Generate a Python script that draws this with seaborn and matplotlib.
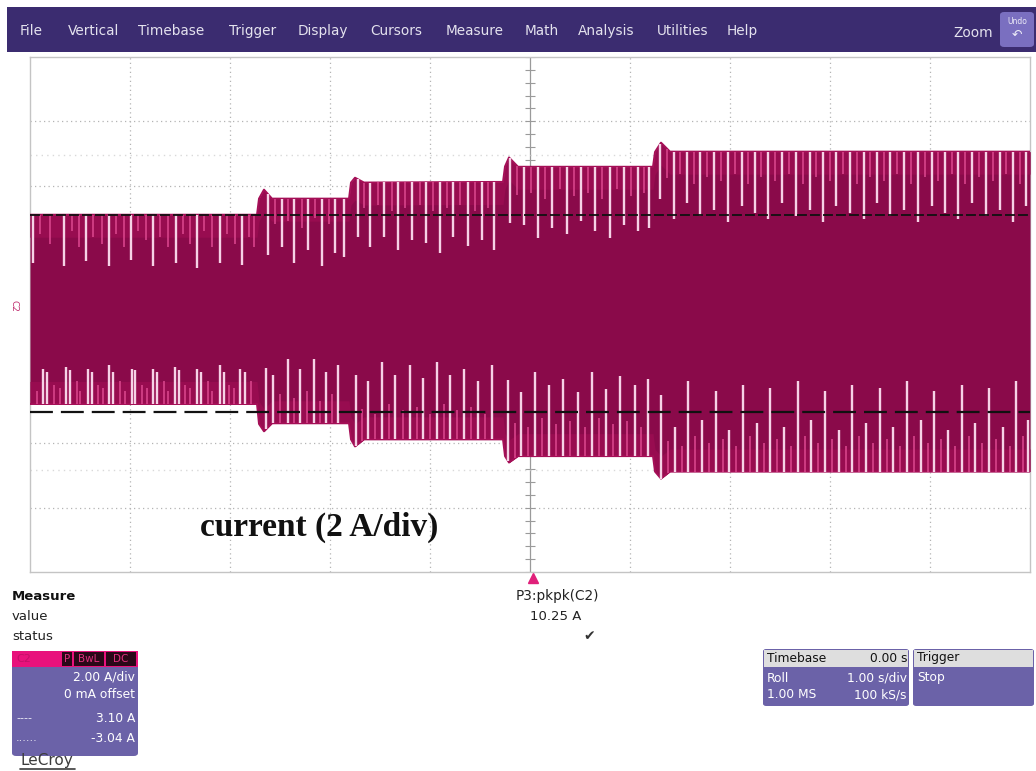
import numpy as np
import matplotlib
matplotlib.use("Agg")
import matplotlib.pyplot as plt
import seaborn as sns
from matplotlib.patches import FancyBboxPatch, Rectangle
from matplotlib.lines import Line2D

# ---------------- data ----------------
menu_items = ["File", "Vertical", "Timebase", "Trigger", "Display", "Cursors",
              "Measure", "Math", "Analysis", "Utilities", "Help"]

# envelope of the current trace (time in s, current in A)
env_t = [-5.00, -2.73, -2.71, -2.66, -2.58, -1.81, -1.79, -1.75, -1.66,
         -0.27, -0.25, -0.21, -0.12, 1.23, 1.25, 1.31, 1.40, 5.00]
env_upper = [3.10, 3.10, 3.60, 3.88, 3.60, 3.60, 4.10, 4.25, 4.10,
             4.12, 4.60, 4.88, 4.59, 4.59, 5.05, 5.34, 5.06, 5.06]
env_lower = [-2.78, -2.78, -3.40, -3.63, -3.38, -3.38, -3.88, -4.10, -3.88,
             -3.88, -4.40, -4.60, -4.40, -4.40, -4.88, -5.10, -4.88, -4.88]

# light streaks hanging from the upper envelope (time, length in A)
top_white_t = [-4.97, -4.66, -4.44, -4.21, -3.99, -3.77, -3.54, -3.33, -3.10, -2.88,
               -2.62, -2.48, -2.36, -2.22, -2.08, -1.95, -1.86,
               -1.72, -1.60, -1.46, -1.32, -1.18, -1.04, -0.90, -0.77, -0.62, -0.48, -0.36,
               -0.20, -0.06, 0.08, 0.22, 0.37, 0.51, 0.65, 0.80, 0.94, 1.08, 1.19,
               1.30, 1.44, 1.57, 1.70, 1.84, 1.98, 2.12, 2.25, 2.38, 2.52, 2.66, 2.80,
               2.93, 3.06, 3.20, 3.34, 3.47, 3.60, 3.74, 3.88, 4.02, 4.15, 4.28, 4.42,
               4.56, 4.70, 4.83, 4.96]
top_white_len = [1.50, 1.60, 1.45, 1.60, 1.40, 1.60, 1.50, 1.65, 1.50, 1.55,
                 1.90, 1.50, 2.00, 1.60, 2.10, 1.70, 1.80,
                 1.80, 2.00, 1.70, 2.10, 1.80, 1.90, 2.20, 1.70, 2.00, 1.80, 2.10,
                 2.00, 1.80, 2.20, 1.90, 2.10, 1.70, 2.00, 2.20, 1.80, 2.00, 1.90,
                 1.70, 2.10, 1.60, 2.00, 1.80, 2.20, 1.70, 1.90, 2.10, 1.60, 2.00, 1.80,
                 2.20, 1.70, 1.90, 2.10, 1.60, 2.00, 1.80, 2.20, 1.70, 1.90, 2.10, 1.60,
                 2.00, 1.80, 2.20, 1.70]
top_pink_t = [-4.90, -4.80, -4.58, -4.51, -4.37, -4.28, -4.14, -4.06, -3.92, -3.84,
              -3.70, -3.62, -3.47, -3.40, -3.26, -3.18, -3.03, -2.95, -2.81, -2.76,
              -2.55, -2.42, -2.28, -2.15, -2.01,
              -1.66, -1.52, -1.38, -1.25, -1.10, -0.97, -0.83, -0.70, -0.55, -0.42,
              -0.13, 0.01, 0.15, 0.30, 0.44, 0.58, 0.72, 0.87, 1.01, 1.14,
              1.37, 1.50, 1.64, 1.77, 1.91, 2.05, 2.18, 2.31, 2.45, 2.59, 2.73,
              2.86, 3.00, 3.13, 3.27, 3.40, 3.54, 3.67, 3.81, 3.95, 4.08, 4.22,
              4.35, 4.49, 4.63, 4.76, 4.90]
top_pink_len = [0.6, 0.9, 0.5, 1.0, 0.7, 0.9, 0.6, 1.0, 0.5, 0.8,
                0.7, 1.0, 0.6, 0.9, 0.5, 1.0, 0.6, 0.9, 0.7, 1.0,
                0.8, 0.7, 0.9, 0.6, 0.8,
                0.8, 0.7, 0.9, 0.8, 0.7, 0.9, 0.8, 0.7, 0.9, 0.8,
                0.9, 0.8, 1.0, 0.7, 0.9, 0.8, 1.0, 0.7, 0.9, 0.8,
                0.9, 0.7, 1.0, 0.8, 0.9, 0.7, 1.0, 0.8, 0.9, 0.7, 1.0,
                0.8, 0.9, 0.7, 1.0, 0.8, 0.9, 0.7, 1.0, 0.8, 0.9, 0.7,
                1.0, 0.8, 0.9, 0.7, 1.0]

# light streaks rising from the lower envelope (time, length in A)
bot_white_t = [-4.87, -4.83, -4.64, -4.60, -4.42, -4.38, -4.21, -4.17, -3.98, -3.95,
               -3.77, -3.73, -3.55, -3.51, -3.33, -3.29, -3.10, -3.06, -2.90, -2.85,
               -2.64, -2.57, -2.42, -2.30, -2.16, -2.04, -1.92,
               -1.74, -1.62, -1.48, -1.35, -1.20, -1.07, -0.93, -0.80, -0.66, -0.52, -0.38,
               -0.22, -0.09, 0.05, 0.19, 0.33, 0.48, 0.62, 0.76, 0.90, 1.05, 1.18,
               1.31, 1.45, 1.58, 1.72, 1.86, 1.99, 2.13, 2.27, 2.40, 2.54, 2.68, 2.81,
               2.95, 3.09, 3.22, 3.36, 3.50, 3.63, 3.77, 3.91, 4.04, 4.18, 4.32, 4.45,
               4.59, 4.73, 4.86, 4.98]
bot_white_len = [1.10, 1.00, 1.15, 1.05, 1.10, 1.00, 1.20, 1.00, 1.10, 1.05,
                 1.10, 1.00, 1.15, 1.05, 1.10, 1.00, 1.20, 1.00, 1.10, 1.00,
                 1.90, 1.50, 2.00, 1.70, 2.00, 1.60, 1.80,
                 2.20, 1.80, 2.40, 2.00, 2.30, 1.90, 2.40, 2.00, 2.20, 1.80, 2.30,
                 2.50, 2.00, 2.60, 2.20, 2.40, 2.00, 2.60, 2.10, 2.50, 2.20, 2.40,
                 2.60, 1.40, 2.80, 1.60, 2.50, 1.30, 2.70, 1.50, 2.60, 1.40, 2.80, 1.60,
                 2.50, 1.30, 2.70, 1.50, 2.60, 1.40, 2.80, 1.60, 2.50, 1.30, 2.70, 1.50,
                 2.60, 1.40, 2.80, 1.60]
bot_pink_t = [-4.93, -4.76, -4.70, -4.53, -4.50, -4.32, -4.27, -4.10, -4.05, -3.88,
              -3.83, -3.66, -3.62, -3.45, -3.40, -3.22, -3.18, -3.01, -2.96, -2.79,
              -2.50, -2.36, -2.23, -2.10, -1.98,
              -1.68, -1.55, -1.41, -1.27, -1.13, -1.00, -0.86, -0.73, -0.59, -0.45,
              -0.15, -0.02, 0.12, 0.26, 0.40, 0.55, 0.69, 0.83, 0.97, 1.11,
              1.38, 1.52, 1.65, 1.79, 1.93, 2.06, 2.20, 2.34, 2.47, 2.61, 2.75,
              2.88, 3.02, 3.16, 3.29, 3.43, 3.57, 3.70, 3.84, 3.98, 4.11, 4.25,
              4.39, 4.52, 4.66, 4.80, 4.93]
bot_pink_len = [0.4, 0.6, 0.5, 0.7, 0.4, 0.6, 0.5, 0.7, 0.4, 0.6,
                0.5, 0.7, 0.4, 0.6, 0.5, 0.7, 0.4, 0.6, 0.5, 0.7,
                0.9, 0.8, 1.0, 0.7, 0.9,
                1.0, 0.8, 1.1, 0.9, 1.0, 0.8, 1.1, 0.9, 1.0, 0.8,
                1.1, 0.9, 1.2, 1.0, 1.1, 0.9, 1.2, 1.0, 1.1, 0.9,
                1.0, 0.8, 1.1, 0.9, 1.0, 0.8, 1.1, 0.9, 1.0, 0.8, 1.1,
                0.9, 1.0, 0.8, 1.1, 0.9, 1.0, 0.8, 1.1, 0.9, 1.0, 0.8,
                1.1, 0.9, 1.0, 0.8, 1.1]

upper_cursor = 3.10
lower_cursor = -3.04
amps_per_div = 2.0
secs_per_div = 1.0
label_text = "current (2 A/div)"
measure_name = "P3:pkpk(C2)"
measure_value = "10.25 A"
chan_lines = ["2.00 A/div", "0 mA offset", "3.10 A", "-3.04 A"]
timebase_rows = [("Roll", "1.00 s/div"), ("1.00 MS", "100 kS/s")]

# ---------------- layout helpers ----------------
W, H = 1036, 771
sns.set_theme(style="white")
plt.rcParams["font.family"] = ["DejaVu Sans"]

fig = plt.figure(figsize=(W / 100, H / 100), dpi=100)
fig.patch.set_facecolor("white")


def P(x, y):
    return x / W, 1 - y / H


def ftext(x, y, s, **kw):
    fx, fy = P(x, y)
    kw.setdefault("va", "center")
    fig.text(fx, fy, s, **kw)


def fbox(x0, y0, x1, y1, color, rounded=0.0, z=1, ec="none"):
    fx0, fy1 = P(x0, y1)
    fx1, fy0 = P(x1, y0)
    if rounded > 0:
        p = FancyBboxPatch((fx0, fy1), fx1 - fx0, fy0 - fy1,
                           boxstyle=f"round,pad=0,rounding_size={rounded}",
                           transform=fig.transFigure, fc=color, ec=ec, zorder=z)
    else:
        p = Rectangle((fx0, fy1), fx1 - fx0, fy0 - fy1, transform=fig.transFigure,
                      fc=color, ec=ec, zorder=z)
    fig.add_artist(p)

# ---------------- menu bar ----------------
fbox(7, 7, 1036, 52, "#3b2c70", z=1)
menu_x = [20, 68, 138, 229, 298, 370, 446, 525, 578, 657, 727]
for name, x in zip(menu_items, menu_x):
    ftext(x, 31, name, color="#e4e2ee", fontsize=9.8, ha="left")
ftext(953, 33, "Zoom", color="#e4e2ee", fontsize=9.8, ha="left")
fbox(1000, 12, 1034, 47, "#7a6fc0", rounded=0.004, z=2)
ftext(1017, 21, "Undo", color="#ecebf7", fontsize=5.5, ha="center", zorder=3)
ftext(1017, 35, "\u21b6", color="#ecebf7", fontsize=9, ha="center", zorder=3)

# ---------------- scope grid ----------------
ax = fig.add_axes([30 / W, 1 - 572 / H, 1000 / W, 515 / H])
ax.set_xlim(-5 * secs_per_div, 5 * secs_per_div)
ax.set_ylim(-4 * amps_per_div, 4 * amps_per_div)
ax.set_xticks([])
ax.set_yticks([])
for s in ax.spines.values():
    s.set_color("#c4c4c4")
    s.set_linewidth(1.0)
ax.set_facecolor("white")

grid_kw = dict(color="#b4b4b4", lw=0.9, ls=(0, (1, 2.6)), zorder=1)
for k in range(-4, 5):
    if k != 0:
        ax.axvline(k * secs_per_div, **grid_kw)
for k in range(-3, 4):
    if k != 0:
        ax.axhline(k * amps_per_div, **grid_kw)
ax.axvline(0, color="#9a9a9a", lw=0.9, zorder=1)
ax.axhline(0, color="#9a9a9a", lw=0.9, zorder=1)
ax.hlines(np.arange(-8, 8.01, 0.4), -0.05, 0.05, color="#9a9a9a", lw=0.8, zorder=1)
ax.vlines(np.arange(-5, 5.01, 0.2), -0.14, 0.14, color="#9a9a9a", lw=0.8, zorder=1)
# faint ghost rows
ax.axhline(4.95, color="#d9d9d9", lw=1.0, ls=(0, (1, 3)), zorder=1)
ax.axhline(-4.83, color="#d9d9d9", lw=1.0, ls=(0, (1, 3)), zorder=1)

# ---------------- trace ----------------
up = np.array(env_upper)
lo = np.array(env_lower)
ax.fill_between(env_t, lo, up, color="#8a0a4a", lw=0, zorder=3)
ax.fill_between(env_t, up - 0.7, up, color="#980c50", lw=0, zorder=3.1)
ax.fill_between(env_t, lo, lo + 0.7, color="#980c50", lw=0, zorder=3.1)
sns.lineplot(x=env_t, y=env_upper, ax=ax, color="#a50f57", lw=1.4, zorder=3.2,
             estimator=None, sort=False)
sns.lineplot(x=env_t, y=env_lower, ax=ax, color="#a50f57", lw=1.4, zorder=3.2,
             estimator=None, sort=False)

tp = np.array(top_pink_t)
tp_top = np.interp(tp, env_t, env_upper)
ax.vlines(tp, tp_top - np.array(top_pink_len), tp_top, color="#d23f86", lw=1.3, zorder=4)
tw = np.array(top_white_t)
tw_top = np.interp(tw, env_t, env_upper)
ax.vlines(tw, tw_top - np.array(top_white_len), tw_top, color="#f6d2e6", lw=1.7, zorder=4)

bp = np.array(bot_pink_t)
bp_bot = np.interp(bp, env_t, env_lower)
ax.vlines(bp, bp_bot, bp_bot + np.array(bot_pink_len), color="#d23f86", lw=1.3, zorder=4)
bw = np.array(bot_white_t)
bw_bot = np.interp(bw, env_t, env_lower)
ax.vlines(bw, bw_bot, bw_bot + np.array(bot_white_len), color="#f6d2e6", lw=1.7, zorder=4)

# cursors
ax.axhline(upper_cursor, color="#111111", lw=1.3, ls=(0, (5.5, 1.7)), zorder=5)
ax.axhline(lower_cursor, color="#111111", lw=1.6, ls=(0, (10.3, 3.6)), zorder=5)

# trigger marker
ax.plot([0.03], [-8.2], marker="^", color="#e0207a", ms=7, clip_on=False, zorder=6)

# channel tag
ftext(14, 306, "C2", color="#c03070", fontsize=6.5, rotation=270, ha="center")

ftext(200, 527, label_text, fontsize=24, fontweight="bold", ha="left",
      family=["Liberation Serif", "DejaVu Serif"], color="#111111")

# ---------------- measure area ----------------
ftext(12, 596, "Measure", fontsize=9.5, fontweight="bold", ha="left", color="#111111")
ftext(12, 616, "value", fontsize=9.5, ha="left", color="#222222")
ftext(12, 636, "status", fontsize=9.5, ha="left", color="#222222")
ftext(599, 596, measure_name, fontsize=9.8, ha="right", color="#222222")
ftext(581, 616, measure_value, fontsize=9.5, ha="right", color="#222222")
ftext(589, 636, "\u2714", fontsize=10, ha="center", color="#333333")

# channel descriptor
fbox(12, 651, 138, 756, "#6b62a8", rounded=0.004, z=1)
fbox(12, 651, 138, 667, "#e8127c", z=2)
ftext(16, 659, "C2", fontsize=8, ha="left", color="#c40f68", zorder=3)
fbox(62, 652, 72, 666, "#2a0818", z=3)
fbox(74, 652, 104, 666, "#2a0818", z=3)
fbox(106, 652, 136, 666, "#2a0818", z=3)
ftext(67, 659, "P", fontsize=7.5, ha="center", color="#e0307f", zorder=4)
ftext(89, 659, "BwL", fontsize=7.5, ha="center", color="#e0307f", zorder=4)
ftext(121, 659, "DC", fontsize=7.5, ha="center", color="#e0307f", zorder=4)
for s, y in zip(chan_lines, [677, 694, 718, 738]):
    ftext(135, y, s, fontsize=8.8, ha="right", color="white", zorder=3)
ftext(16, 718, "----", fontsize=8, ha="left", color="#f0f0f8", zorder=3)
ftext(16, 738, "......", fontsize=8, ha="left", color="#f0f0f8", zorder=3)

ftext(20, 760, "LeCroy", fontsize=11, ha="left", color="#3c3c3c")
lx0, ly = P(20, 769)
lx1, _ = P(75, 769)
fig.add_artist(Line2D([lx0, lx1], [ly, ly], color="#3c3c3c", lw=1.2, transform=fig.transFigure))

# timebase panel
fbox(763, 649, 909, 706, "#6b62a8", rounded=0.003, z=1)
fbox(764, 650, 908, 667, "#dedede", z=2)
ftext(767, 658, "Timebase", fontsize=8.8, ha="left", color="#111111", zorder=3)
ftext(907, 658, "0.00 s", fontsize=8.8, ha="right", color="#111111", zorder=3)
for (a, b), y in zip(timebase_rows, [678, 695]):
    ftext(767, y, a, fontsize=8.8, ha="left", color="white", zorder=3)
    ftext(907, y, b, fontsize=8.8, ha="right", color="white", zorder=3)

# trigger panel
fbox(913, 649, 1034, 706, "#6b62a8", rounded=0.003, z=1)
fbox(914, 650, 1033, 667, "#dedede", z=2)
ftext(917, 658, "Trigger", fontsize=8.8, ha="left", color="#111111", zorder=3)
ftext(917, 678, "Stop", fontsize=8.8, ha="left", color="white", zorder=3)

fig.savefig("out.png", dpi=100, facecolor="white")
